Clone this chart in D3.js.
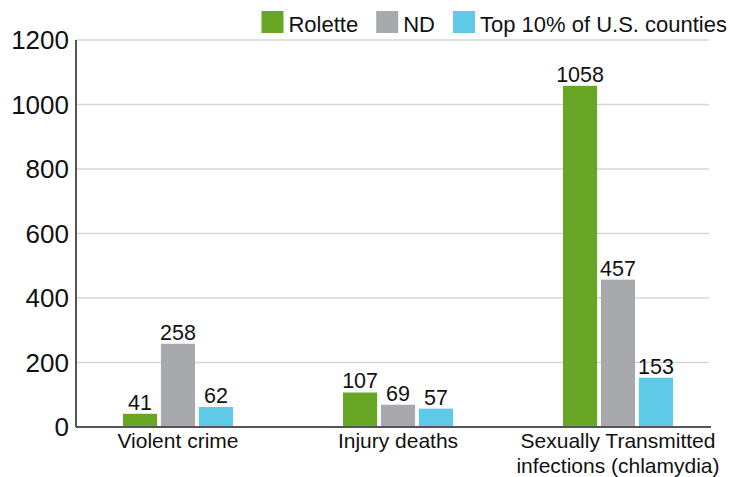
<!DOCTYPE html>
<html>
<head>
<meta charset="utf-8">
<script src="https://cdn.jsdelivr.net/npm/d3@7"></script>
<style>
  html, body { margin: 0; padding: 0; background: #fff; }
  svg { display: block; font-family: "Liberation Sans", Arial, Helvetica, sans-serif; }
</style>
</head>
<body>
<div id="chart"></div>
<script>
const categories= [['Violent crime'], ['Injury deaths'], ['Sexually Transmitted', 'infections (chlamydia)']];
const seriesNames= ['Rolette', 'ND', 'Top 10% of U.S. counties'];
const rolette= [41, 107, 1058];
const nd= [258, 69, 457];
const top10= [62, 57, 153];
const yTicks= [0, 200, 400, 600, 800, 1000, 1200];
const colors= ['#68a626', '#a8a9ad', '#5ecae8'];

const W= 730, H= 477;
const M= { left: 76, right: 10, top: 40, bottom: 50 };

const svg= d3.select('#chart').append('svg')
  .attr('width', W).attr('height', H);

const y= d3.scaleLinear().domain([0, 1200]).range([H-M.bottom, M.top]);
const x0= d3.scaleBand().domain(d3.range(categories.length))
  .range([M.left, W-M.right]).paddingInner(0.5).paddingOuter(0.2136);
const x1= d3.scaleBand().domain(d3.range(seriesNames.length))
  .range([0, x0.bandwidth()]).paddingInner(0.1);

// gridlines
svg.append('g')
  .selectAll('line')
  .data(yTicks.filter(t => t > 0))
  .join('line')
  .attr('x1', M.left).attr('x2', 709)
  .attr('y1', d => y(d)).attr('y2', d => y(d))
  .attr('stroke', '#d6d6d6').attr('stroke-width', 1.5);

// y axis labels
svg.append('g')
  .selectAll('text')
  .data(yTicks)
  .join('text')
  .attr('x', M.left-7)
  .attr('y', d => y(d)+9)
  .attr('text-anchor', 'end')
  .attr('font-size', 26)
  .attr('fill', '#111')
  .text(d => d);

const rows= [rolette, nd, top10];
const bars= [];
categories.forEach((c, ci) => {
  rows.forEach((r, si) => bars.push({ ci, si, v: r[ci] }));
});

svg.append('g')
  .selectAll('rect')
  .data(bars)
  .join('rect')
  .attr('x', d => x0(d.ci)+x1(d.si))
  .attr('width', x1.bandwidth())
  .attr('y', d => y(d.v))
  .attr('height', d => y(0)-y(d.v))
  .attr('fill', d => colors[d.si]);

svg.append('g')
  .selectAll('text')
  .data(bars)
  .join('text')
  .attr('x', d => x0(d.ci)+x1(d.si)+x1.bandwidth()/2)
  .attr('y', d => y(d.v)-4)
  .attr('text-anchor', 'middle')
  .attr('font-size', 21.5)
  .attr('fill', '#111')
  .text(d => d.v);

// axis lines
svg.append('line')
  .attr('x1', M.left).attr('x2', M.left)
  .attr('y1', M.top).attr('y2', y(0))
  .attr('stroke', '#555').attr('stroke-width', 2);
svg.append('line')
  .attr('x1', M.left).attr('x2', 711)
  .attr('y1', y(0)).attr('y2', y(0))
  .attr('stroke', '#555').attr('stroke-width', 2);

// category labels
const catG= svg.append('g')
  .selectAll('text')
  .data(categories)
  .join('text')
  .attr('x', (d, i) => x0(i)+x0.bandwidth()/2)
  .attr('y', y(0)+21)
  .attr('text-anchor', 'middle')
  .attr('font-size', 21)
  .attr('fill', '#111');
catG.selectAll('tspan')
  .data(d => d)
  .join('tspan')
  .attr('x', function() { return this.parentNode.getAttribute('x'); })
  .attr('dy', (d, i) => i === 0 ? 0 : 25)
  .text(d => d);

// legend, right aligned
const leg= svg.append('g');
const items= leg.selectAll('g')
  .data(seriesNames)
  .join('g');
items.append('rect')
  .attr('width', 22).attr('height', 22)
  .attr('y', 11)
  .attr('fill', (d, i) => colors[i]);
items.append('text')
  .attr('x', 27).attr('y', 32)
  .attr('font-size', 22)
  .attr('fill', '#111')
  .text(d => d);
let lx= 0;
items.each(function() {
  const w= this.querySelector('text').getComputedTextLength();
  d3.select(this).attr('transform', `translate(${lx},0)`);
  lx+= 27+w+18;
});
leg.attr('transform', `translate(${727-(lx-18)},0)`);
</script>
</body>
</html>
